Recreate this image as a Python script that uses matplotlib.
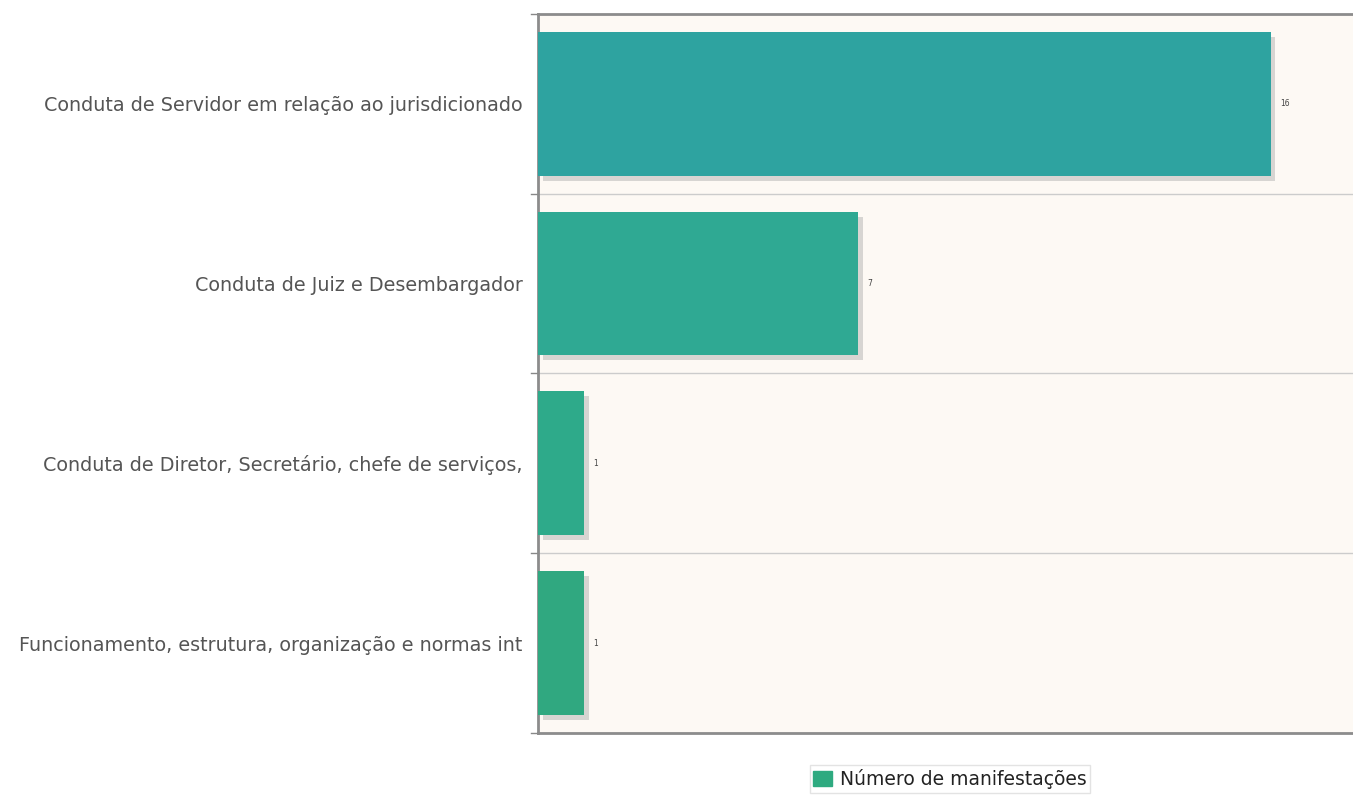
import matplotlib
matplotlib.use("Agg")
import matplotlib.pyplot as plt
import matplotlib.patheffects as pe
from matplotlib.patches import Patch

categorias = [
    "Conduta de Servidor em relação ao jurisdicionado",
    "Conduta de Juiz e Desembargador",
    "Conduta de Diretor, Secretário, chefe de serviços,",
    "Funcionamento, estrutura, organização e normas int",
]
valores = [16, 7, 1, 1]
cores = ["#2ea3a0", "#2fa993", "#2eaa8a", "#30a880"]
legenda = "Número de manifestações"

fig = plt.figure(figsize=(13.53, 7.98), dpi=100, facecolor="white")
ax = fig.add_axes([0.3976, 0.0815, 0.6024, 0.901])
ax.set_facecolor("#fdf9f4")

pos = list(range(len(categorias)))
bars = ax.barh(pos, valores, height=0.8, color=cores, zorder=3)
for b in bars:
    b.set_path_effects([
        pe.SimplePatchShadow(offset=(3.5, -3.5), shadow_rgbFace="#aaaaaa", alpha=0.45),
        pe.Normal(),
    ])

for p, v in zip(pos, valores):
    ax.text(v + 0.2, p, str(v), va="center", ha="left", fontsize=5.5, color="#444444")

ax.set_ylim(len(categorias) - 0.5, -0.5)
ax.set_xlim(0, 17.8)
ax.set_yticks(pos)
ax.set_yticklabels(categorias, fontsize=13.8, color="#555555")
ax.tick_params(axis="y", length=0, pad=11)
ax.set_xticks([])

# linhas entre categorias
for y in [-0.5, 0.5, 1.5, 2.5, 3.5]:
    ax.axhline(y, color="#cccccc", lw=1, zorder=1)
    ax.plot([-0.15, 0], [y, y], color="#888888", lw=1, clip_on=False)

for s in ["left", "bottom", "top"]:
    ax.spines[s].set_color("#8c8c8c")
    ax.spines[s].set_linewidth(2)
ax.spines["right"].set_visible(False)

fig.legend(handles=[Patch(color="#2eaa80", label=legenda)], loc="center",
           bbox_to_anchor=(0.702, 0.024), fontsize=13.5, frameon=True,
           edgecolor="#dddddd", fancybox=False, handlelength=1.0,
           handleheight=0.9, handletextpad=0.4, borderpad=0.2,
           labelcolor="#222222")

fig.savefig("out.png", dpi=100)
